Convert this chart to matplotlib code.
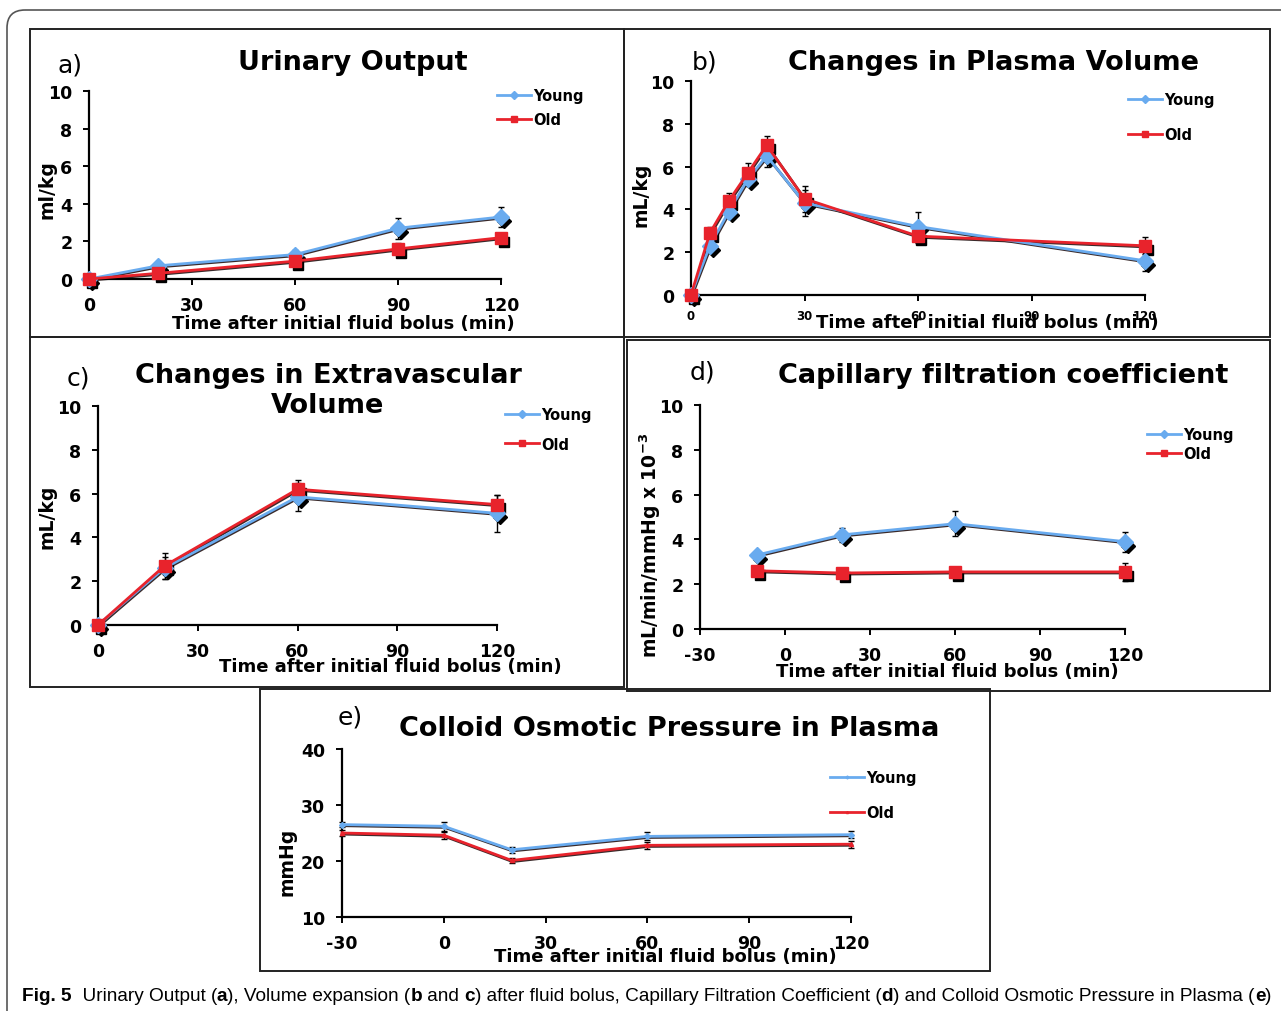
import numpy as np
import matplotlib.pyplot as plt
from matplotlib.patches import Rectangle, FancyBboxPatch
from matplotlib.transforms import ScaledTranslation

W, H = 1281, 1012

# ---- data ----
a_time = [0, 20, 60, 90, 120]
a_young = [0, 0.7, 1.3, 2.7, 3.3]
a_young_err = [0.05, 0.15, 0.25, 0.55, 0.55]
a_old = [0, 0.3, 0.95, 1.6, 2.2]
a_old_err = [0.05, 0.1, 0.2, 0.3, 0.2]

b_time = [0, 5, 10, 15, 20, 30, 60, 120]
b_young = [0, 2.3, 3.9, 5.4, 6.5, 4.3, 3.2, 1.6]
b_young_err = [0.1, 0.3, 0.3, 0.3, 0.5, 0.6, 0.7, 0.5]
b_old = [0, 2.9, 4.4, 5.7, 7.0, 4.5, 2.75, 2.3]
b_old_err = [0.1, 0.3, 0.35, 0.45, 0.45, 0.6, 0.3, 0.4]

c_time = [0, 20, 60, 120]
c_young = [0, 2.6, 5.85, 5.1]
c_young_err = [0.05, 0.5, 0.65, 0.85]
c_old = [0, 2.7, 6.2, 5.5]
c_old_err = [0.05, 0.6, 0.4, 0.45]

d_time = [-10, 20, 60, 120]
d_young = [3.3, 4.2, 4.7, 3.9]
d_young_err = [0.2, 0.3, 0.55, 0.45]
d_old = [2.6, 2.5, 2.55, 2.55]
d_old_err = [0.15, 0.15, 0.15, 0.4]

e_time = [-30, 0, 20, 60, 120]
e_young = [26.5, 26.2, 22.0, 24.4, 24.7]
e_young_err = [0.5, 0.8, 0.5, 0.7, 0.6]
e_old = [25.0, 24.6, 20.1, 22.8, 23.0]
e_old_err = [0.5, 0.6, 0.5, 0.6, 0.6]

xlab = 'Time after initial fluid bolus (min)'
YOUNG = '#69abef'
OLD = '#e8232c'

plt.rcParams['font.family'] = 'DejaVu Sans'
plt.rcParams['axes.unicode_minus'] = False
fig = plt.figure(figsize=(W / 100, H / 100), dpi=100)

# background axes in pixel units for frames / caption
bg = fig.add_axes([0, 0, 1, 1])
bg.set_xlim(0, W)
bg.set_ylim(H, 0)
bg.axis('off')


def px_axes(x0, y0, x1, y1):
    ax = fig.add_axes([x0 / W, 1 - y1 / H, (x1 - x0) / W, (y1 - y0) / H])
    ax.set_facecolor('none')
    for s in ['top', 'right']:
        ax.spines[s].set_visible(False)
    for s in ['left', 'bottom']:
        ax.spines[s].set_linewidth(1.6)
    ax.tick_params(width=1.4, length=4, direction='out', labelsize=12.5)
    ax.tick_params(axis='x', pad=8.5)
    ax.tick_params(axis='y', pad=8)
    return ax


def ftext(x, y, s, **kw):
    kw.setdefault('ha', 'center')
    kw.setdefault('va', 'center')
    return bg.text(x, y, s, **kw)


def series(ax, x, y, err, color, marker, ms, label, shadow=True):
    off = ScaledTranslation(2.4 / 72, -2.8 / 72, fig.dpi_scale_trans)
    loff = ScaledTranslation(0.6 / 72, -0.8 / 72, fig.dpi_scale_trans)
    ax.plot(x, y, color='#3a2a2a', lw=2, transform=ax.transData + loff,
            zorder=2, clip_on=False)
    if shadow:
        ax.plot(x, y, ls='none', marker=marker, ms=ms - 1, color='black',
                transform=ax.transData + off, zorder=2, clip_on=False)
    ax.errorbar(x, y, yerr=err, fmt='none', ecolor='black', elinewidth=1,
                capsize=2.5, capthick=1, zorder=3, clip_on=False)
    ax.plot(x, y, color=color, lw=2, marker=marker, ms=ms, mfc=color,
            mec=color, zorder=4, label=label, clip_on=False)


def legend(ax, x, y, spacing, size=10.5):
    ax.legend(loc='upper left', bbox_to_anchor=(x / W, 1 - y / H),
              bbox_transform=fig.transFigure, frameon=False,
              prop=dict(weight='bold', size=size), handlelength=2.3,
              handletextpad=0.2, labelspacing=spacing, markerscale=0.5,
              borderaxespad=0, borderpad=0)


def bold_ticks(ax):
    for lab in ax.get_xticklabels() + ax.get_yticklabels():
        lab.set_fontweight('bold')


# ---- frames ----
bg.add_patch(FancyBboxPatch((7, 11), 1400, 1100,
                            boxstyle='round,pad=0,rounding_size=18',
                            fc='none', ec='#555555', lw=1.2))
for (x0, y0, x1, y1) in [(30, 30, 624, 338), (624, 30, 1270, 338),
                         (30, 338, 624, 688), (627, 341, 1270, 692),
                         (260, 690, 990, 972)]:
    bg.add_patch(Rectangle((x0, y0), x1 - x0, y1 - y0, fc='none',
                           ec='#222222', lw=1.4))

# ---- a) ----
ax = px_axes(89, 92, 501, 280)
series(ax, a_time, a_young, a_young_err, YOUNG, 'D', 8.5, 'Young')
series(ax, a_time, a_old, a_old_err, OLD, 's', 8.5, 'Old')
ax.set_xlim(0, 120)
ax.set_ylim(0, 10)
ax.set_xticks([0, 30, 60, 90, 120])
ax.set_yticks(range(0, 11, 2))
bold_ticks(ax)
legend(ax, 497, 89, 0.6)
ftext(353, 63, 'Urinary Output', fontsize=19.5, fontweight='bold')
ftext(70, 65, 'a)', fontsize=18)
ftext(343, 324, xlab, fontsize=13, fontweight='bold')
ftext(47, 190, 'ml/kg', fontsize=13.5, fontweight='bold', rotation=90)

# ---- b) ----
ax = px_axes(691, 82, 1145, 296)
series(ax, b_time, b_young, b_young_err, YOUNG, 'D', 8.5, 'Young')
series(ax, b_time, b_old, b_old_err, OLD, 's', 8.5, 'Old')
ax.set_xlim(0, 120)
ax.set_ylim(0, 10)
ax.set_xticks([0, 30, 60, 90, 120])
ax.set_yticks(range(0, 11, 2))
ax.tick_params(axis='x', labelsize=8.5, pad=6)
bold_ticks(ax)
legend(ax, 1128, 93, 1.35)
ftext(993, 63, 'Changes in Plasma Volume', fontsize=19.5, fontweight='bold')
ftext(705, 62, 'b)', fontsize=18)
ftext(987, 323, xlab, fontsize=13, fontweight='bold')
ftext(641, 195, 'mL/kg', fontsize=13.5, fontweight='bold', rotation=90)

# ---- c) ----
ax = px_axes(98, 407, 497, 626)
series(ax, c_time, c_young, c_young_err, YOUNG, 'D', 8.5, 'Young')
series(ax, c_time, c_old, c_old_err, OLD, 's', 8.5, 'Old')
ax.set_xlim(0, 120)
ax.set_ylim(0, 10)
ax.set_xticks([0, 30, 60, 90, 120])
ax.set_yticks(range(0, 11, 2))
bold_ticks(ax)
legend(ax, 505, 408, 1.0)
ftext(328, 391, 'Changes in Extravascular\nVolume', fontsize=19.5,
      fontweight='bold', linespacing=1.2)
ftext(78, 378, 'c)', fontsize=18)
ftext(390, 667, xlab, fontsize=13, fontweight='bold')
ftext(47, 517, 'mL/kg', fontsize=13.5, fontweight='bold', rotation=90)

# ---- d) ----
ax = px_axes(700, 406, 1125, 630)
series(ax, d_time, d_young, d_young_err, YOUNG, 'D', 8.5, 'Young')
series(ax, d_time, d_old, d_old_err, OLD, 's', 8.5, 'Old')
ax.set_xlim(-30, 120)
ax.set_ylim(0, 10)
ax.set_xticks([-30, 0, 30, 60, 90, 120])
ax.set_yticks(range(0, 11, 2))
bold_ticks(ax)
legend(ax, 1147, 428, 0.3)
ftext(1003, 376, 'Capillary filtration coefficient', fontsize=19.5,
      fontweight='bold')
ftext(702, 372, 'd)', fontsize=18)
ftext(947, 672, xlab, fontsize=13, fontweight='bold')
ftext(650, 545, r'mL/min/mmHg x 10$^{\mathregular{-3}}$', fontsize=13.5,
      fontweight='bold', rotation=90)

# ---- e) ----
ax = px_axes(342, 750, 851, 918)
series(ax, e_time, e_young, e_young_err, YOUNG, 'D', 3, 'Young', shadow=False)
series(ax, e_time, e_old, e_old_err, OLD, '^', 3, 'Old', shadow=False)
ax.set_xlim(-30, 120)
ax.set_ylim(10, 40)
ax.set_xticks([-30, 0, 30, 60, 90, 120])
ax.set_yticks([10, 20, 30, 40])
bold_ticks(ax)
legend(ax, 830, 771, 1.35)
ftext(669, 729, 'Colloid Osmotic Pressure in Plasma', fontsize=19.5,
      fontweight='bold')
ftext(350, 718, 'e)', fontsize=18)
ftext(665, 957, xlab, fontsize=13, fontweight='bold')
ftext(287, 862, 'mmHg', fontsize=13.5, fontweight='bold', rotation=90)

# ---- caption ----
pieces = [('Fig. 5', 'bold'), ('  Urinary Output (', 'normal'), ('a', 'bold'),
          ('), Volume expansion (', 'normal'), ('b', 'bold'), (' and ', 'normal'),
          ('c', 'bold'), (') after fluid bolus, Capillary Filtration Coefficient (', 'normal'),
          ('d', 'bold'), (') and Colloid Osmotic Pressure in Plasma (', 'normal'),
          ('e', 'bold'), (')', 'normal')]
cap_font = ['Liberation Sans', 'DejaVu Sans']
cap = []
t = bg.text(22, 1005, pieces[0][0], fontsize=13, fontweight=pieces[0][1],
            family=cap_font, ha='left', va='bottom')
cap.append(t)
for s, w in pieces[1:]:
    t = bg.annotate(s, xy=(1, 0), xycoords=t, fontsize=13, fontweight=w,
                    family=cap_font, ha='left', va='bottom')
    cap.append(t)

# shrink the caption so that it ends near the right edge
r = fig.canvas.get_renderer()
x0 = cap[0].get_window_extent(r).x0
x1 = cap[-1].get_window_extent(r).x1
scale = (1275 - x0) / (x1 - x0)
for t in cap:
    t.set_fontsize(13 * scale)

fig.savefig('out.png', dpi=100)
